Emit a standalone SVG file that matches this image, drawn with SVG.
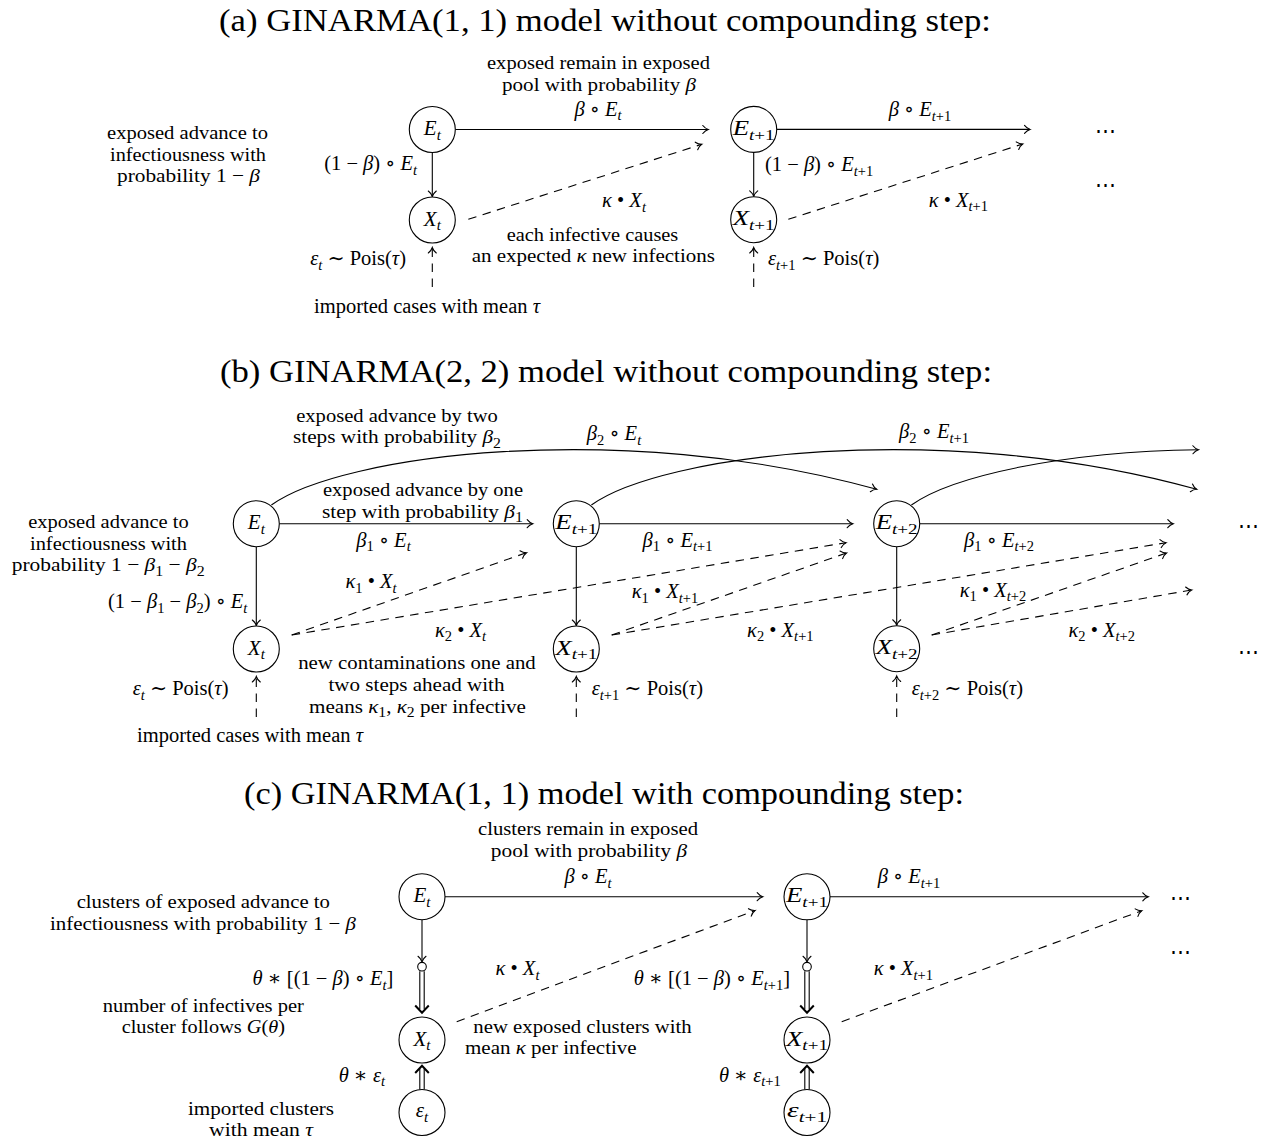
<svg xmlns="http://www.w3.org/2000/svg" width="1268" height="1140" viewBox="0 0 1268 1140">
<defs>
<marker id="ah" markerUnits="userSpaceOnUse" viewBox="-8 -6 10 12" refX="0" refY="0" markerWidth="10" markerHeight="12" orient="auto">
<path d="M-5.5,-4 C-3.6,-1.6 -1.6,-0.5 0,0 C-1.6,0.5 -3.6,1.6 -5.5,4" fill="none" stroke="#000" stroke-width="1.1" stroke-linecap="round"/>
</marker>
</defs>
<style>
text { font-family: "Liberation Serif", "DejaVu Serif", serif; font-size: 20.5px; fill: #000; }
.ttl { font-size: 32px; text-anchor: middle; }
.ml { font-size: 19.5px; }
.m { text-anchor: middle; }
.e { text-anchor: end; }
.i { font-style: italic; }
.u { font-style: normal; }
.s { font-size: 14.5px; }
.node circle { fill: #fff; stroke: #000; stroke-width: 1.1; }
.node text { text-anchor: middle; font-style: italic; font-size: 21px; }
.node .s { font-size: 15px; }
.c { fill: none; stroke: #000; stroke-width: 1.1; }
.a { marker-end: url(#ah); }
.d { stroke-dasharray: 8.5 6.5; }
.dh { fill: none; stroke: #000; stroke-width: 2; stroke-linejoin: miter; }
</style>
<rect width="1268" height="1140" fill="#fff"/>

<g id="titles">
<text class="ttl" x="605" y="31" textLength="772" lengthAdjust="spacingAndGlyphs">(a) GINARMA(1, 1) model without compounding step:</text>
<text class="ttl" x="606" y="382" textLength="772" lengthAdjust="spacingAndGlyphs">(b) GINARMA(2, 2) model without compounding step:</text>
<text class="ttl" x="604" y="803.5" textLength="720" lengthAdjust="spacingAndGlyphs">(c) GINARMA(1, 1) model with compounding step:</text>
</g>

<g id="connectors">
<!-- (a) -->
<path class="c a" d="M455.3,129.5 H708.3"/>
<path class="c a" d="M776.7,129.4 H1030"/>
<path class="c a" d="M432.3,152.5 V196.5"/>
<path class="c a" d="M753.7,152.4 V196.4"/>
<path class="c a d" d="M468.3,219.3 L701.7,144.3"/>
<path class="c a d" d="M788.3,219.3 L1022.7,144"/>
<path class="c a d" d="M432.3,287 V247.5"/>
<path class="c a d" d="M753.7,287 V247.5"/>
<!-- (b) -->
<path class="c a" d="M279.3,523.7 H532.7"/>
<path class="c a" d="M599.3,523.7 H852.7"/>
<path class="c a" d="M919.7,523.7 H1173.3"/>
<path class="c a" d="M256.3,546.7 V625.5"/>
<path class="c a" d="M576.3,546.7 V625.5"/>
<path class="c a" d="M896.7,546.7 V625.3"/>
<path class="c a" d="M271.4,505 C340,455 620,418 876.7,489.3"/>
<path class="c a" d="M591.4,505 C660,455 940,418 1196.7,489.3"/>
<path class="c a" d="M911.4,505 C951.2,476.4 1062,451.5 1198.4,449.7"/>
<path class="c a d" d="M291.7,635 L526.5,552.7"/>
<path class="c a d" d="M291.7,635 L846,542.7"/>
<path class="c a d" d="M611.7,635 L846.5,553"/>
<path class="c a d" d="M611.7,635 L1166,542.7"/>
<path class="c a d" d="M931.7,635 L1166.5,553"/>
<path class="c a d" d="M931.7,635 L1191.7,590"/>
<path class="c a d" d="M256.3,717 V676.5"/>
<path class="c a d" d="M576.3,717 V676.5"/>
<path class="c a d" d="M896.7,717 V676"/>
<!-- (c) -->
<path class="c a" d="M445,896.7 H762.7"/>
<path class="c a" d="M830,896.8 H1148.3"/>
<path class="c a" d="M422,919.5 V961.8"/>
<path class="c a" d="M807,919.8 V961.8"/>
<path class="c a d" d="M456.7,1021.7 L755,910.5"/>
<path class="c a d" d="M841.7,1021.7 L1141.7,910.7"/>
<path class="c" d="M419.8,971.2 V1009 M424.2,971.2 V1009"/>
<path class="dh" d="M415.2,1005.5 L422,1012.7 L428.8,1005.5"/>
<path class="c" d="M804.8,971.2 V1009 M809.2,971.2 V1009"/>
<path class="dh" d="M800.2,1005.5 L807,1012.7 L813.8,1005.5"/>
<path class="c" d="M419.8,1089.5 V1069 M424.2,1089.5 V1069"/>
<path class="dh" d="M415.2,1073 L422,1065.8 L428.8,1073"/>
<path class="c" d="M804.8,1089.5 V1069 M809.2,1089.5 V1069"/>
<path class="dh" d="M800.2,1073 L807,1065.8 L813.8,1073"/>
</g>

<!-- nodes (a) -->
<g id="a-Et" class="node"><circle cx="432.3" cy="129.5" r="23"/><text x="432.3" y="135">E<tspan class="s" dy="4.5">t</tspan></text></g>
<g id="a-Xt" class="node"><circle cx="432.3" cy="220" r="23"/><text x="432.3" y="225.5">X<tspan class="s" dy="4.5">t</tspan></text></g>
<g id="a-Et1" class="node"><circle cx="753.7" cy="129.4" r="23"/><text x="753.7" y="135" textLength="42" lengthAdjust="spacingAndGlyphs">E<tspan class="s" dy="4.5">t<tspan class="u">+1</tspan></tspan></text></g>
<g id="a-Xt1" class="node"><circle cx="753.7" cy="219.7" r="23"/><text x="753.7" y="225.2" textLength="42" lengthAdjust="spacingAndGlyphs">X<tspan class="s" dy="4.5">t<tspan class="u">+1</tspan></tspan></text></g>

<!-- nodes (b) -->
<g id="b-Et" class="node"><circle cx="256.3" cy="523.7" r="23"/><text x="256.3" y="529.2">E<tspan class="s" dy="4.5">t</tspan></text></g>
<g id="b-Xt" class="node"><circle cx="256.3" cy="649" r="23"/><text x="256.3" y="654.5">X<tspan class="s" dy="4.5">t</tspan></text></g>
<g id="b-Et1" class="node"><circle cx="576.3" cy="523.7" r="23"/><text x="576.3" y="529.2" textLength="42" lengthAdjust="spacingAndGlyphs">E<tspan class="s" dy="4.5">t<tspan class="u">+1</tspan></tspan></text></g>
<g id="b-Xt1" class="node"><circle cx="576.3" cy="649" r="23"/><text x="576.3" y="654.5" textLength="42" lengthAdjust="spacingAndGlyphs">X<tspan class="s" dy="4.5">t<tspan class="u">+1</tspan></tspan></text></g>
<g id="b-Et2" class="node"><circle cx="896.7" cy="523.7" r="23"/><text x="896.7" y="529.2" textLength="42" lengthAdjust="spacingAndGlyphs">E<tspan class="s" dy="4.5">t<tspan class="u">+2</tspan></tspan></text></g>
<g id="b-Xt2" class="node"><circle cx="896.7" cy="648.7" r="23"/><text x="896.7" y="654.2" textLength="42" lengthAdjust="spacingAndGlyphs">X<tspan class="s" dy="4.5">t<tspan class="u">+2</tspan></tspan></text></g>

<!-- nodes (c) -->
<g id="c-Et" class="node"><circle cx="422" cy="896.7" r="23"/><text x="422" y="902.2">E<tspan class="s" dy="4.5">t</tspan></text></g>
<g id="c-mt" class="node"><circle cx="422" cy="966.7" r="4.3"/></g>
<g id="c-Xt" class="node"><circle cx="422" cy="1040" r="23"/><text x="422" y="1045.5">X<tspan class="s" dy="4.5">t</tspan></text></g>
<g id="c-et" class="node"><circle cx="422" cy="1112.5" r="23"/><text x="422" y="1117">ε<tspan class="s" dy="4.5">t</tspan></text></g>
<g id="c-Et1" class="node"><circle cx="807" cy="896.8" r="23"/><text x="807" y="902.3" textLength="42" lengthAdjust="spacingAndGlyphs">E<tspan class="s" dy="4.5">t<tspan class="u">+1</tspan></tspan></text></g>
<g id="c-mt1" class="node"><circle cx="807" cy="966.7" r="4.3"/></g>
<g id="c-Xt1" class="node"><circle cx="807" cy="1040" r="23"/><text x="807" y="1045.5" textLength="42" lengthAdjust="spacingAndGlyphs">X<tspan class="s" dy="4.5">t<tspan class="u">+1</tspan></tspan></text></g>
<g id="c-et1" class="node"><circle cx="807" cy="1112.5" r="23"/><text x="807" y="1117" textLength="40" lengthAdjust="spacingAndGlyphs">ε<tspan class="s" dy="4.5">t<tspan class="u">+1</tspan></tspan></text></g>

<g id="labels-a">
<text class="m ml" x="598.5" y="69.2" textLength="223" lengthAdjust="spacingAndGlyphs">exposed remain in exposed</text>
<text class="m ml" x="599" y="90.8" textLength="194" lengthAdjust="spacingAndGlyphs">pool with probability <tspan class="i">β</tspan></text>
<text class="m" x="598" y="115.5"><tspan class="i">β</tspan> ∘ <tspan class="i">E</tspan><tspan class="s i" dy="4.5">t</tspan></text>
<text class="m ml" x="187.5" y="139.1" textLength="161" lengthAdjust="spacingAndGlyphs">exposed advance to</text>
<text class="m ml" x="188" y="160.7" textLength="156" lengthAdjust="spacingAndGlyphs">infectiousness with</text>
<text class="m ml" x="188.5" y="182.3" textLength="143" lengthAdjust="spacingAndGlyphs">probability 1 − <tspan class="i">β</tspan></text>
<text class="e" x="417" y="170">(1 − <tspan class="i">β</tspan>) ∘ <tspan class="i">E</tspan><tspan class="s i" dy="4.5">t</tspan></text>
<text class="m" x="624" y="207"><tspan class="i">κ</tspan> • <tspan class="i">X</tspan><tspan class="s i" dy="4.5">t</tspan></text>
<text class="m ml" x="592.5" y="240.6" textLength="171.6" lengthAdjust="spacingAndGlyphs">each infective causes</text>
<text class="m ml" x="593.3" y="262.2" textLength="243.3" lengthAdjust="spacingAndGlyphs">an expected <tspan class="i">κ</tspan> new infections</text>
<text class="e" x="406" y="265"><tspan class="i">ε</tspan><tspan class="s i" dy="4.5">t</tspan><tspan dy="-4.5"> ∼ Pois(</tspan><tspan class="i">τ</tspan>)</text>
<text class="m" x="427" y="313.3">imported cases with mean <tspan class="i">τ</tspan></text>
<text class="m" x="920" y="116"><tspan class="i">β</tspan> ∘ <tspan class="i">E</tspan><tspan class="s" dy="4.5"><tspan class="i">t</tspan>+1</tspan></text>
<text x="765" y="171">(1 − <tspan class="i">β</tspan>) ∘ <tspan class="i">E</tspan><tspan class="s" dy="4.5"><tspan class="i">t</tspan>+1</tspan></text>
<text class="m" x="958.3" y="206.7"><tspan class="i">κ</tspan> • <tspan class="i">X</tspan><tspan class="s" dy="4.5"><tspan class="i">t</tspan>+1</tspan></text>
<text x="768" y="265"><tspan class="i">ε</tspan><tspan class="s" dy="4.5"><tspan class="i">t</tspan>+1</tspan><tspan dy="-4.5"> ∼ Pois(</tspan><tspan class="i">τ</tspan>)</text>
<text class="m" x="1105" y="138">⋯</text>
<text class="m" x="1105" y="192">⋯</text>
</g>

<g id="labels-b">
<text class="m ml" x="397" y="421.7" textLength="201.6" lengthAdjust="spacingAndGlyphs">exposed advance by two</text>
<text class="m ml" x="397" y="443.3" textLength="208" lengthAdjust="spacingAndGlyphs">steps with probability <tspan class="i">β</tspan><tspan class="s" dy="4.5">2</tspan></text>
<text class="m" x="614" y="440"><tspan class="i">β</tspan><tspan class="s" dy="4.5">2</tspan><tspan dy="-4.5"> ∘ </tspan><tspan class="i">E</tspan><tspan class="s i" dy="4.5">t</tspan></text>
<text class="m" x="934" y="438.3"><tspan class="i">β</tspan><tspan class="s" dy="4.5">2</tspan><tspan dy="-4.5"> ∘ </tspan><tspan class="i">E</tspan><tspan class="s" dy="4.5"><tspan class="i">t</tspan>+1</tspan></text>
<text class="m ml" x="423" y="495.9" textLength="200" lengthAdjust="spacingAndGlyphs">exposed advance by one</text>
<text class="m ml" x="422.5" y="517.5" textLength="201" lengthAdjust="spacingAndGlyphs">step with probability <tspan class="i">β</tspan><tspan class="s" dy="4.5">1</tspan></text>
<text class="m" x="383.5" y="546.7"><tspan class="i">β</tspan><tspan class="s" dy="4.5">1</tspan><tspan dy="-4.5"> ∘ </tspan><tspan class="i">E</tspan><tspan class="s i" dy="4.5">t</tspan></text>
<text class="m" x="677.5" y="546.7"><tspan class="i">β</tspan><tspan class="s" dy="4.5">1</tspan><tspan dy="-4.5"> ∘ </tspan><tspan class="i">E</tspan><tspan class="s" dy="4.5"><tspan class="i">t</tspan>+1</tspan></text>
<text class="m" x="999" y="546.7"><tspan class="i">β</tspan><tspan class="s" dy="4.5">1</tspan><tspan dy="-4.5"> ∘ </tspan><tspan class="i">E</tspan><tspan class="s" dy="4.5"><tspan class="i">t</tspan>+2</tspan></text>
<text class="m ml" x="108.5" y="527.9" textLength="160.5" lengthAdjust="spacingAndGlyphs">exposed advance to</text>
<text class="m ml" x="108.5" y="549.5" textLength="157" lengthAdjust="spacingAndGlyphs">infectiousness with</text>
<text class="m ml" x="108.2" y="571.1" textLength="193" lengthAdjust="spacingAndGlyphs">probability 1 − <tspan class="i">β</tspan><tspan class="s" dy="4.5">1</tspan><tspan dy="-4.5"> − </tspan><tspan class="i">β</tspan><tspan class="s" dy="4.5">2</tspan></text>
<text class="e" x="247.4" y="608.3">(1 − <tspan class="i">β</tspan><tspan class="s" dy="4.5">1</tspan><tspan dy="-4.5"> − </tspan><tspan class="i">β</tspan><tspan class="s" dy="4.5">2</tspan><tspan dy="-4.5">) ∘ </tspan><tspan class="i">E</tspan><tspan class="s i" dy="4.5">t</tspan></text>
<text class="m" x="371" y="588.3"><tspan class="i">κ</tspan><tspan class="s" dy="4.5">1</tspan><tspan dy="-4.5"> • </tspan><tspan class="i">X</tspan><tspan class="s i" dy="4.5">t</tspan></text>
<text class="m" x="460.5" y="636.7"><tspan class="i">κ</tspan><tspan class="s" dy="4.5">2</tspan><tspan dy="-4.5"> • </tspan><tspan class="i">X</tspan><tspan class="s i" dy="4.5">t</tspan></text>
<text class="m" x="665" y="598"><tspan class="i">κ</tspan><tspan class="s" dy="4.5">1</tspan><tspan dy="-4.5"> • </tspan><tspan class="i">X</tspan><tspan class="s" dy="4.5"><tspan class="i">t</tspan>+1</tspan></text>
<text class="m" x="780.3" y="636.7"><tspan class="i">κ</tspan><tspan class="s" dy="4.5">2</tspan><tspan dy="-4.5"> • </tspan><tspan class="i">X</tspan><tspan class="s" dy="4.5"><tspan class="i">t</tspan>+1</tspan></text>
<text class="m" x="993" y="596.7"><tspan class="i">κ</tspan><tspan class="s" dy="4.5">1</tspan><tspan dy="-4.5"> • </tspan><tspan class="i">X</tspan><tspan class="s" dy="4.5"><tspan class="i">t</tspan>+2</tspan></text>
<text class="m" x="1101.7" y="636.7"><tspan class="i">κ</tspan><tspan class="s" dy="4.5">2</tspan><tspan dy="-4.5"> • </tspan><tspan class="i">X</tspan><tspan class="s" dy="4.5"><tspan class="i">t</tspan>+2</tspan></text>
<text class="m ml" x="417" y="669.4" textLength="237.6" lengthAdjust="spacingAndGlyphs">new contaminations one and</text>
<text class="m ml" x="416.5" y="691" textLength="176" lengthAdjust="spacingAndGlyphs">two steps ahead with</text>
<text class="m ml" x="417.5" y="712.6" textLength="217" lengthAdjust="spacingAndGlyphs">means <tspan class="i">κ</tspan><tspan class="s" dy="4.5">1</tspan><tspan dy="-4.5">, </tspan><tspan class="i">κ</tspan><tspan class="s" dy="4.5">2</tspan><tspan dy="-4.5"> per infective</tspan></text>
<text class="e" x="228.5" y="695"><tspan class="i">ε</tspan><tspan class="s i" dy="4.5">t</tspan><tspan dy="-4.5"> ∼ Pois(</tspan><tspan class="i">τ</tspan>)</text>
<text x="591.7" y="695"><tspan class="i">ε</tspan><tspan class="s" dy="4.5"><tspan class="i">t</tspan>+1</tspan><tspan dy="-4.5"> ∼ Pois(</tspan><tspan class="i">τ</tspan>)</text>
<text x="911.7" y="695"><tspan class="i">ε</tspan><tspan class="s" dy="4.5"><tspan class="i">t</tspan>+2</tspan><tspan dy="-4.5"> ∼ Pois(</tspan><tspan class="i">τ</tspan>)</text>
<text class="m" x="250" y="741.7">imported cases with mean <tspan class="i">τ</tspan></text>
<text class="m" x="1248.3" y="532.5">⋯</text>
<text class="m" x="1248.3" y="658.5">⋯</text>
</g>

<g id="labels-c">
<text class="m ml" x="588" y="835.4" textLength="220" lengthAdjust="spacingAndGlyphs">clusters remain in exposed</text>
<text class="m ml" x="589" y="857" textLength="196.3" lengthAdjust="spacingAndGlyphs">pool with probability <tspan class="i">β</tspan></text>
<text class="m" x="588" y="883.3"><tspan class="i">β</tspan> ∘ <tspan class="i">E</tspan><tspan class="s i" dy="4.5">t</tspan></text>
<text class="m" x="909" y="883.3"><tspan class="i">β</tspan> ∘ <tspan class="i">E</tspan><tspan class="s" dy="4.5"><tspan class="i">t</tspan>+1</tspan></text>
<text class="m ml" x="203.3" y="908.4" textLength="253.3" lengthAdjust="spacingAndGlyphs">clusters of exposed advance to</text>
<text class="m ml" x="203" y="930" textLength="306" lengthAdjust="spacingAndGlyphs">infectiousness with probability 1 − <tspan class="i">β</tspan></text>
<text class="e" x="393.3" y="985"><tspan class="i">θ</tspan> ∗ [(1 − <tspan class="i">β</tspan>) ∘ <tspan class="i">E</tspan><tspan class="s i" dy="4.5">t</tspan><tspan dy="-4.5">]</tspan></text>
<text class="m" x="517.5" y="975"><tspan class="i">κ</tspan> • <tspan class="i">X</tspan><tspan class="s i" dy="4.5">t</tspan></text>
<text class="e" x="790" y="985"><tspan class="i">θ</tspan> ∗ [(1 − <tspan class="i">β</tspan>) ∘ <tspan class="i">E</tspan><tspan class="s" dy="4.5"><tspan class="i">t</tspan>+1</tspan><tspan dy="-4.5">]</tspan></text>
<text class="m" x="903.3" y="975"><tspan class="i">κ</tspan> • <tspan class="i">X</tspan><tspan class="s" dy="4.5"><tspan class="i">t</tspan>+1</tspan></text>
<text class="m ml" x="203.3" y="1011.7" textLength="201.3" lengthAdjust="spacingAndGlyphs">number of infectives per</text>
<text class="m ml" x="203.3" y="1033.3" textLength="163.3" lengthAdjust="spacingAndGlyphs">cluster follows <tspan class="i">G</tspan>(<tspan class="i">θ</tspan>)</text>
<text class="ml" x="473.3" y="1032.6" textLength="218.4" lengthAdjust="spacingAndGlyphs">new exposed clusters with</text>
<text class="ml" x="465" y="1054.2" textLength="171.7" lengthAdjust="spacingAndGlyphs">mean <tspan class="i">κ</tspan> per infective</text>
<text class="e" x="385" y="1081.7"><tspan class="i">θ</tspan> ∗ <tspan class="i">ε</tspan><tspan class="s i" dy="4.5">t</tspan></text>
<text class="e" x="780.7" y="1081.7"><tspan class="i">θ</tspan> ∗ <tspan class="i">ε</tspan><tspan class="s" dy="4.5"><tspan class="i">t</tspan>+1</tspan></text>
<text class="m ml" x="261" y="1114.6" textLength="146" lengthAdjust="spacingAndGlyphs">imported clusters</text>
<text class="m ml" x="261" y="1135.6" textLength="104" lengthAdjust="spacingAndGlyphs">with mean <tspan class="i">τ</tspan></text>
<text class="m" x="1180" y="905">⋯</text>
<text class="m" x="1180" y="959">⋯</text>
</g>
</svg>
